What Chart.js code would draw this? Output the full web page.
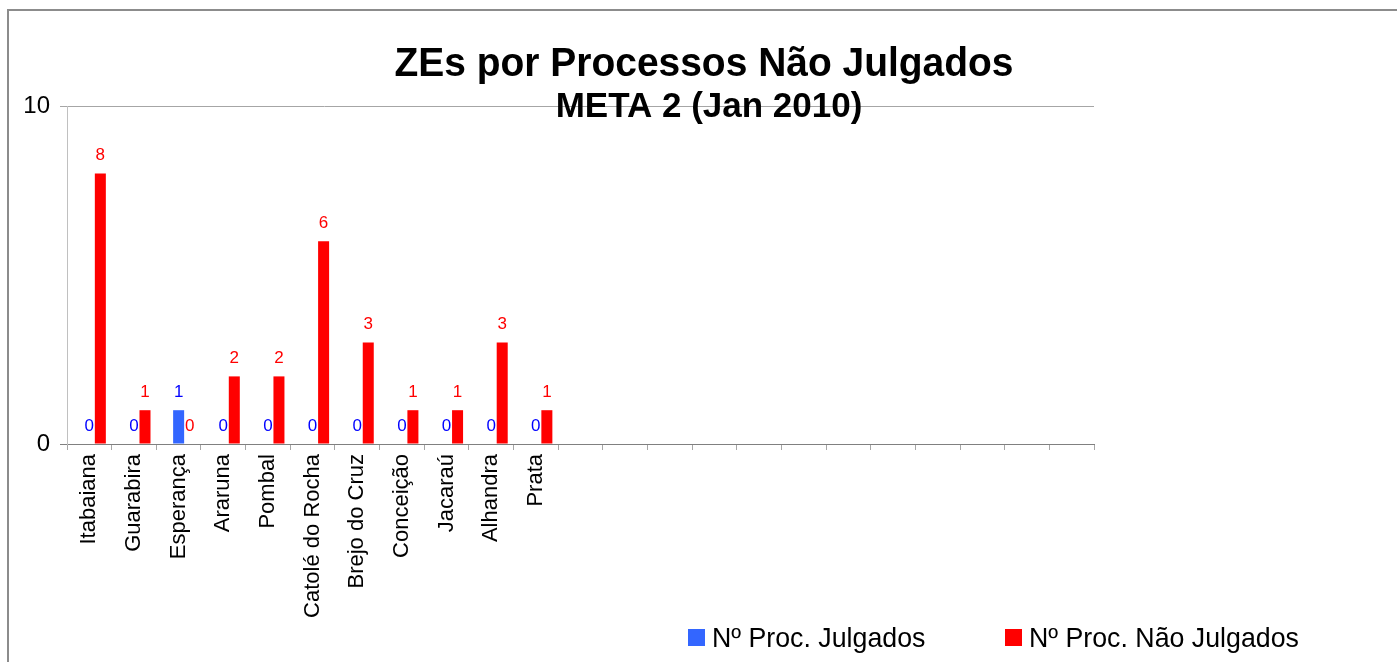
<!DOCTYPE html>
<html>
<head>
<meta charset="utf-8">
<script src="https://cdn.jsdelivr.net/npm/chart.js@4/dist/chart.umd.min.js"></script>
<style>
  html, body { margin: 0; padding: 0; background: #fff; }
  canvas { display: block; }
</style>
</head>
<body>
<canvas id="chart" width="1397" height="662"></canvas>
<script>
/* ── ZEs por Processos Não Julgados ─────────────────────────────────────────── */

const ZONES = [
  'Itabaiana', 'Guarabira', 'Esperança', 'Araruna', 'Pombal', 'Catolé do Rocha',
  'Brejo do Cruz', 'Conceição', 'Jacaraú', 'Alhandra', 'Prata',
  '', '', '', '', '', '', '', '', '', '', '', '',
];
const JULGADOS     = [0, 0, 1, 0, 0, 0, 0, 0, 0, 0, 0];
const NAO_JULGADOS = [8, 1, 0, 2, 2, 6, 3, 1, 1, 3, 1];
const Y_TICKS      = [0, 10];

const TITLE    = 'ZEs por Processos Não Julgados';
const SUBTITLE = 'META 2 (Jan 2010)';

const COLORS = {
  julgados    : '#3366ff',
  naoJulgados : '#ff0000',
  labelBlue   : '#0000ff',
  labelRed    : '#ff0000',
};

const FONT = '"Liberation Sans", Arial, sans-serif';
Chart.defaults.font.family = FONT;
Chart.defaults.color = '#000';

// ── Helpers ───────────────────────────────────────────────────────────────────
function pad(arr) {
  return ZONES.map((_, i) => (i < arr.length ? arr[i] : null));
}

// ── Plugins: frame, titles, value labels, legend ─────────────────────────────
const decor = {
  id: 'decor',
  beforeDraw(chart) {
    const ctx = chart.ctx;
    ctx.save();
    ctx.strokeStyle = '#8c8c8c';
    ctx.lineWidth = 2;
    ctx.strokeRect(8, 10, 1400, 700);
    ctx.restore();
  },
  afterDatasetsDraw(chart) {
    const ctx = chart.ctx;
    ctx.save();
    ctx.font = '17px ' + FONT;
    ctx.textAlign = 'center';
    ctx.textBaseline = 'middle';
    chart.data.datasets.forEach((ds, di) => {
      if (!ds.valueColor) return;
      const meta = chart.getDatasetMeta(di);
      meta.data.forEach((bar, i) => {
        const v = ds.data[i];
        if (v === null || v === undefined) return;
        ctx.fillStyle = ds.valueColor;
        ctx.fillText(String(v), bar.x, bar.y - 18);
      });
    });
    ctx.restore();
  },
  afterDraw(chart) {
    const ctx = chart.ctx;
    ctx.save();
    ctx.fillStyle = '#000';
    ctx.textAlign = 'center';
    ctx.textBaseline = 'alphabetic';

    // main title, slightly condensed like the original
    ctx.save();
    ctx.translate(704, 76);
    ctx.scale(0.95, 1);
    ctx.font = 'bold 41px ' + FONT;
    ctx.fillText(TITLE, 0, 0);
    ctx.restore();

    ctx.font = 'bold 35px ' + FONT;
    ctx.fillText(SUBTITLE, 709, 117);

    // legend (text a bit condensed too)
    ctx.textAlign = 'left';
    const items = chart.data.datasets.filter(ds => ds.valueColor);
    const xs = [688, 1005];
    items.forEach((ds, k) => {
      ctx.fillStyle = ds.backgroundColor;
      ctx.fillRect(xs[k], 629, 17, 17);
      ctx.save();
      ctx.translate(xs[k] + 24, 647);
      ctx.scale(0.955, 1);
      ctx.font = '28px ' + FONT;
      ctx.fillStyle = '#000';
      ctx.fillText(ds.label, 0, 0);
      ctx.restore();
    });
    ctx.restore();
  },
};

// ── Chart ─────────────────────────────────────────────────────────────────────
new Chart(document.getElementById('chart'), {
  type: 'bar',
  data: {
    labels: ZONES,
    datasets: [
      // empty series slot, keeps the pair shifted right as in the original
      { label: '', data: pad([]), backgroundColor: 'rgba(0,0,0,0)' },
      { label: 'Nº Proc. Julgados', data: pad(JULGADOS),
        backgroundColor: COLORS.julgados, valueColor: COLORS.labelBlue },
      { label: 'Nº Proc. Não Julgados', data: pad(NAO_JULGADOS),
        backgroundColor: COLORS.naoJulgados, valueColor: COLORS.labelRed },
    ],
  },
  options: {
    responsive: false,
    devicePixelRatio: 1,
    animation: false,
    layout: { padding: { left: 0, top: 106, right: 303, bottom: 0 } },
    datasets: { bar: { categoryPercentage: 0.74, barPercentage: 1 } },
    plugins: { legend: { display: false }, title: { display: false }, tooltip: { enabled: false } },
    scales: {
      x: {
        afterFit: s => { s.height = 218; },
        grid: { drawOnChartArea: false, offset: true, tickLength: 6, color: '#a6a6a6' },
        border: { color: '#808080', width: 1 },
        ticks: { autoSkip: false, minRotation: 90, maxRotation: 90, padding: 4,
                 font: { size: 22 }, color: '#000' },
      },
      y: {
        min: 0, max: 10,
        afterFit: s => { s.width = 67; },
        afterBuildTicks: s => { s.ticks = Y_TICKS.map(v => ({ value: v })); },
        grid: { tickLength: 7, color: ctx => (ctx.tick && ctx.tick.value === 0 ? '#808080' : '#a6a6a6') },
        border: { color: '#c0c0c0', width: 1 },
        ticks: { padding: 10, font: { size: 24 }, color: '#000' },
      },
    },
  },
  plugins: [decor],
});
</script>
</body>
</html>
